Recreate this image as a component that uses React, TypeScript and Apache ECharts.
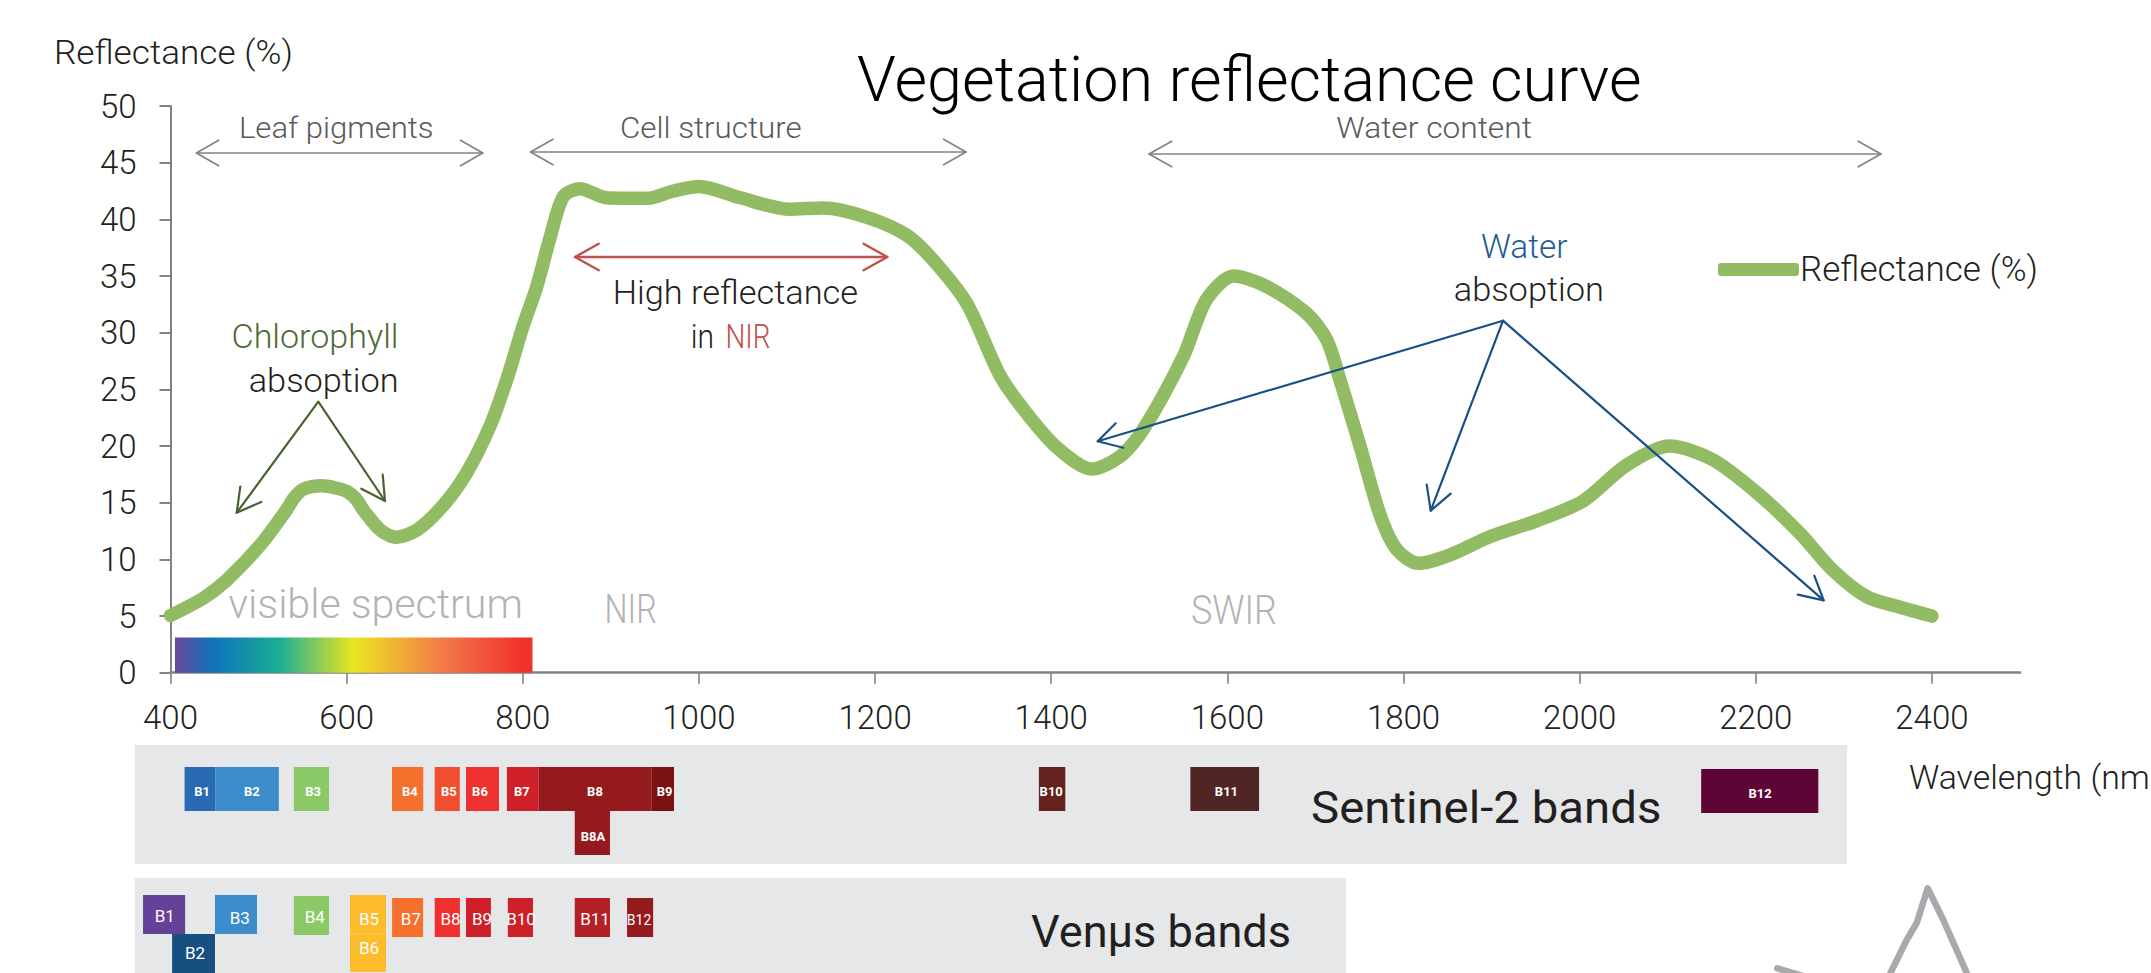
import React, { useEffect, useRef } from "react";
import * as echarts from "echarts";

const wavelengths = [400,437,464,502,532,540,551,572,585,600,611,619,638,656,680,710,736,763,782,800,816,831,846,865,895,941,971,1000,1047,1103,1141,1190,1236,1266,1304,1342,1372,1406,1446,1478,1504,1550,1576,1607,1645,1690,1713,1728,1751,1773,1792,1817,1853,1898,1951,2004,2053,2102,2151,2204,2250,2288,2326,2363,2400];
const reflectance = [5.05,6.56,8.18,11.27,14.4,15.4,16.2,16.5,16.35,16.0,15.3,14.35,12.6,11.95,12.6,14.8,17.6,21.8,25.9,30.5,34.1,38.4,42.0,42.7,41.9,41.85,42.5,42.9,41.9,40.9,41.0,40.2,38.6,36.4,32.6,26.2,22.9,19.9,17.97,19.06,21.4,27.9,32.9,35.0,34.06,31.7,29.35,25.8,19.9,14.0,10.9,9.65,10.4,12,13.4,15.15,18.3,20,18.8,15.7,12.3,9.0,6.7,5.8,5.0];
const xTicks = [400,600,800,1000,1200,1400,1600,1800,2000,2200,2400];

const sentinelNames = ["B1","B2","B3","B4","B5","B6","B7","B8","B9","B8A","B10","B11","B12"];
const sentinelStart = [416,450.7,540,651.5,700,735.5,782,818,946.4,859,1386,1558,2138];
const sentinelEnd = [450.7,523,580,687,728.5,773,818,946.4,971.7,899,1416,1636,2271];
const sentinelLabelAt = [435.8,492.3,562,671.7,716,751.4,799,882,961,879.7,1400,1599,2205];
const sentinelColors = ["#2a6ab2","#3c8ccb","#8ac966","#f5702d","#f04e2e","#ee302e","#cf1f28","#951a1e","#7a1214","#951a1e","#65211e","#512523","#5f0535"];

const venusNames = ["B1","B2","B3","B4","B5","B6","B7","B8","B9","B10","B11","B12"];
const venusStart = [368.8,401.8,450.5,540,603.8,603.8,651.6,700,735.5,783,859,918.4];
const venusEnd = [416.6,450.5,498.2,580,644.7,644.7,686.8,728.6,763.8,811.6,899,948];
const venusLabelAt = [393.5,427.8,478.7,563.8,625.4,625.4,673,718,753.7,798,882,932];
const venusColors = ["#654299","#174f80","#3c8ccb","#8ac966","#fdbc2b","#fdbc2b","#f5702d","#ee302e","#cf1f28","#cf1f28","#b41f26","#951a1e"];

const spectrumRange = [405, 811];
const spectrumTop = 3.1;
const spectrumStops: [number, string][] = [[0,"#6a479c"],[0.11,"#0f74bb"],[0.29,"#19ad96"],[0.5,"#ece621"],[0.75,"#f3794a"],[0.97,"#ef322c"],[1,"#ef322c"]];

// layout (pixels)
const sentinelBoxes: number[][] = [[767,811],[767,811],[767,811],[767,811],[767,811],[767,811],[767,811],[767,811],[767,811],[811,855],[767,811],[767,811],[769,813]];
const sentinelLabelY = [791,791,791,791,791,791,791,791,791,836,791,791,793];
const venusBoxes: number[][] = [[895,934],[934,973],[895,934],[896,935],[895,933.5],[933.5,972],[898,937],[898,937],[898,937],[898,937],[898,937],[898,937]];
const venusLabelY = [916,953,918,917,919,948,919,919,919,919,919,920];

const FONT = "Roboto";
const ctx = document.createElement("canvas").getContext("2d")!;

function label(text: string, x: number, base: number, size: number, fill: string, width?: number, weight: number | string = 300) {
  let scaleX = 1;
  if (width) {
    ctx.font = `${weight} ${size}px ${FONT}`;
    scaleX = width / ctx.measureText(text).width;
  }
  return {
    type: "text", z: 10, x, y: base - size * 0.34, scaleX, silent: true,
    style: { text, x: 0, y: 0, fill, fontFamily: FONT, fontSize: size, fontWeight: weight, align: "left", verticalAlign: "middle" },
  };
}
function stroke(points: number[][], color: string, lineWidth: number, z = 10) {
  return { type: "polyline", z, silent: true, shape: { points }, style: { stroke: color, lineWidth, fill: "none", lineCap: "round", lineJoin: "round" } };
}
function doubleArrow(x0: number, x1: number, y: number, hx: number, hy: number, color: string, w: number) {
  return [
    stroke([[x0, y], [x1, y]], color, w),
    stroke([[x0 + hx, y - hy], [x0, y], [x0 + hx, y + hy]], color, w),
    stroke([[x1 - hx, y - hy], [x1, y], [x1 - hx, y + hy]], color, w),
  ];
}

const GREY = "#808285", GREEN = "#4a6130", BLUE = "#1a5085", RED = "#c1504e", PALE = "#b1b3b6";

const annotations: any[] = [
  { type: "rect", z: 0, silent: true, shape: { x: 134.8, y: 745, width: 1712.2, height: 119 }, style: { fill: "#e6e7e8" } },
  { type: "rect", z: 0, silent: true, shape: { x: 134.8, y: 878, width: 1211.2, height: 95 }, style: { fill: "#e6e7e8" } },

  label("Reflectance (%)", 54, 63.3, 33, "#231f20", 239),
  label("Leaf pigments", 239, 138, 29, "#58595b", 194.7),
  label("Cell structure", 620, 138, 29, "#58595b", 181.7),
  label("Water content", 1336.3, 138, 29, "#58595b", 195.7),
  ...doubleArrow(196.4, 482.8, 153, 22.3, 12.8, GREY, 1.6),
  ...doubleArrow(530.6, 966, 152, 22.4, 12.8, GREY, 1.6),
  ...doubleArrow(1149, 1881, 154, 22.8, 12.8, GREY, 1.6),

  ...doubleArrow(575, 887.3, 257, 23.7, 13.3, RED, 2.4),
  label("High reflectance", 612.7, 304, 33, "#231f20", 245.3),
  label("in", 690.7, 348.3, 33, "#231f20", 23.3),
  label("NIR", 725.5, 348.3, 33, RED, 45),

  label("Chlorophyll", 231.5, 348, 33, "#4f6b35", 167.1),
  label("absoption", 248.7, 391.7, 33, "#231f20", 149.9),
  stroke([[236.7, 512.7], [318.3, 401.7], [385, 501]], GREEN, 2.2),
  stroke([[240.3, 486.7], [236.7, 512.7], [261.3, 502]], GREEN, 2.2),
  stroke([[382.7, 474.7], [385, 501], [361.3, 488.7]], GREEN, 2.2),

  label("Water", 1481, 258, 33, "#1f5a94", 86.5),
  label("absoption", 1453.7, 301, 33, "#231f20", 150.3),
  stroke([[1097.7, 441.3], [1503, 320.7]], BLUE, 2.2),
  stroke([[1115.7, 423.3], [1097.7, 441.3], [1123.3, 447.7]], BLUE, 2.2),
  stroke([[1430.7, 510.7], [1503, 320.7], [1823.7, 600.3]], BLUE, 2.2),
  stroke([[1426.7, 484.7], [1430.7, 510.7], [1450.7, 493.7]], BLUE, 2.2),
  stroke([[1814.3, 575.7], [1823.7, 600.3], [1797.7, 594.7]], BLUE, 2.2),

  label("visible spectrum", 228.3, 618.3, 41, PALE, 294.7),
  label("NIR", 604.5, 623.3, 41, PALE, 52.2),
  label("SWIR", 1191, 624, 41, PALE, 86),

  label("Sentinel-2 bands", 1311, 823, 44, "#231f20", 350.6, 400),
  label("Venµs bands", 1031, 946.7, 44, "#231f20", 260, 400),
  label("Wavelength (nm", 1908.9, 789, 33, "#231f20", 241),

  stroke([[1888, 978], [1906.7, 940], [1916.7, 923], [1927.7, 888.3], [1943.3, 920], [1969, 978]], "#a7a9ac", 6.5),
  stroke([[1777.3, 968.3], [1810, 978]], "#a7a9ac", 6.5),
];

function bandRenderer(names: string[], labelAt: number[], colors: string[], boxes: number[][], labelY: number[], fontSize: (i: number) => number, weight: number) {
  return (params: any, api: any) => {
    const i = params.dataIndex;
    const x0 = api.coord([api.value(0), 0])[0];
    const x1 = api.coord([api.value(1), 0])[0];
    const lx = api.coord([labelAt[i], 0])[0];
    const [top, bottom] = boxes[i];
    return {
      type: "group",
      children: [
        { type: "rect", shape: { x: x0, y: top, width: x1 - x0, height: bottom - top }, style: { fill: colors[i] } },
        { type: "text", z2: 5, style: { text: names[i], x: lx, y: labelY[i], fill: "#ffffff", fontFamily: FONT, fontSize: fontSize(i), fontWeight: weight, align: "center", verticalAlign: "middle" } },
      ],
    };
  };
}

export default function App() {
  const ref = useRef<HTMLDivElement>(null);
  useEffect(() => {
    const chart = echarts.init(ref.current!, undefined, { renderer: "svg" });
    const axisLabelStyle = { color: "#231f20", fontFamily: FONT, fontWeight: 300, fontSize: 33 };
    chart.setOption({
      animation: false,
      backgroundColor: "#ffffff",
      title: {
        text: "Vegetation reflectance curve", left: 852, top: 43,
        textStyle: { color: "#000000", fontFamily: FONT, fontWeight: 300, fontSize: 63 },
      },
      legend: {
        show: true, left: 1718, top: 252, padding: 0, itemWidth: 81, itemHeight: 13, icon: "roundRect", itemGap: 0,
        data: ["Reflectance (%)"],
        textStyle: { color: "#231f20", fontFamily: FONT, fontWeight: 300, fontSize: 35, padding: [0, 0, 0, -4] },
      },
      grid: { left: 170.5, right: 131, top: 106, height: 566.7 },
      xAxis: {
        type: "value", min: 400, max: 2500, interval: 200,
        splitLine: { show: false },
        axisLine: { show: true, onZero: true, lineStyle: { color: GREY, width: 2.5 } },
        axisTick: { show: true, length: 11, customValues: xTicks, lineStyle: { color: GREY, width: 1.6 } },
        axisLabel: { ...axisLabelStyle, margin: 28, customValues: xTicks, formatter: (v: number) => String(v) },
      },
      yAxis: {
        type: "value", min: 0, max: 50, interval: 5,
        splitLine: { show: false },
        axisLine: { show: true, lineStyle: { color: GREY, width: 2 } },
        axisTick: { show: true, length: 11, lineStyle: { color: GREY, width: 2 } },
        axisLabel: { ...axisLabelStyle, margin: 34 },
      },
      series: [
        {
          type: "custom", name: "spectrum", silent: true, clip: false, z: 1,
          data: [[spectrumRange[0], spectrumRange[1], spectrumTop]],
          encode: { x: [0, 1], y: 2 },
          renderItem: (_p: any, api: any) => {
            const a = api.coord([api.value(0), api.value(2)]);
            const b = api.coord([api.value(1), 0]);
            return {
              type: "rect",
              shape: { x: a[0], y: a[1], width: b[0] - a[0], height: b[1] - a[1] },
              style: { fill: new echarts.graphic.LinearGradient(0, 0, 1, 0, spectrumStops.map(([offset, color]) => ({ offset, color }))) },
            };
          },
        },
        {
          type: "custom", name: "Sentinel-2 bands", silent: true, clip: false, z: 1,
          data: sentinelStart.map((s, i) => [s, sentinelEnd[i], 0]),
          encode: { x: [0, 1], y: 2 },
          renderItem: bandRenderer(sentinelNames, sentinelLabelAt, sentinelColors, sentinelBoxes, sentinelLabelY, () => 13, 700),
        },
        {
          type: "custom", name: "Venµs bands", silent: true, clip: false, z: 1,
          data: venusStart.map((s, i) => [s, venusEnd[i], 0]),
          encode: { x: [0, 1], y: 2 },
          renderItem: bandRenderer(venusNames, venusLabelAt, venusColors, venusBoxes, venusLabelY, (i) => (i === 11 ? 14 : 17), 400),
        },
        {
          type: "line", name: "Reflectance (%)", showSymbol: false, smooth: 0.28, clip: false, z: 3,
          data: wavelengths.map((w, i) => [w, reflectance[i]]),
          lineStyle: { color: "#92bc64", width: 13.5, cap: "round", join: "round" },
          itemStyle: { color: "#92bc64" },
        },
      ],
      graphic: { elements: annotations },
    });
    return () => chart.dispose();
  }, []);
  return <div ref={ref} style={{ position: "absolute", left: 0, top: 0, width: 2151, height: 973, overflow: "hidden" }} />;
}
